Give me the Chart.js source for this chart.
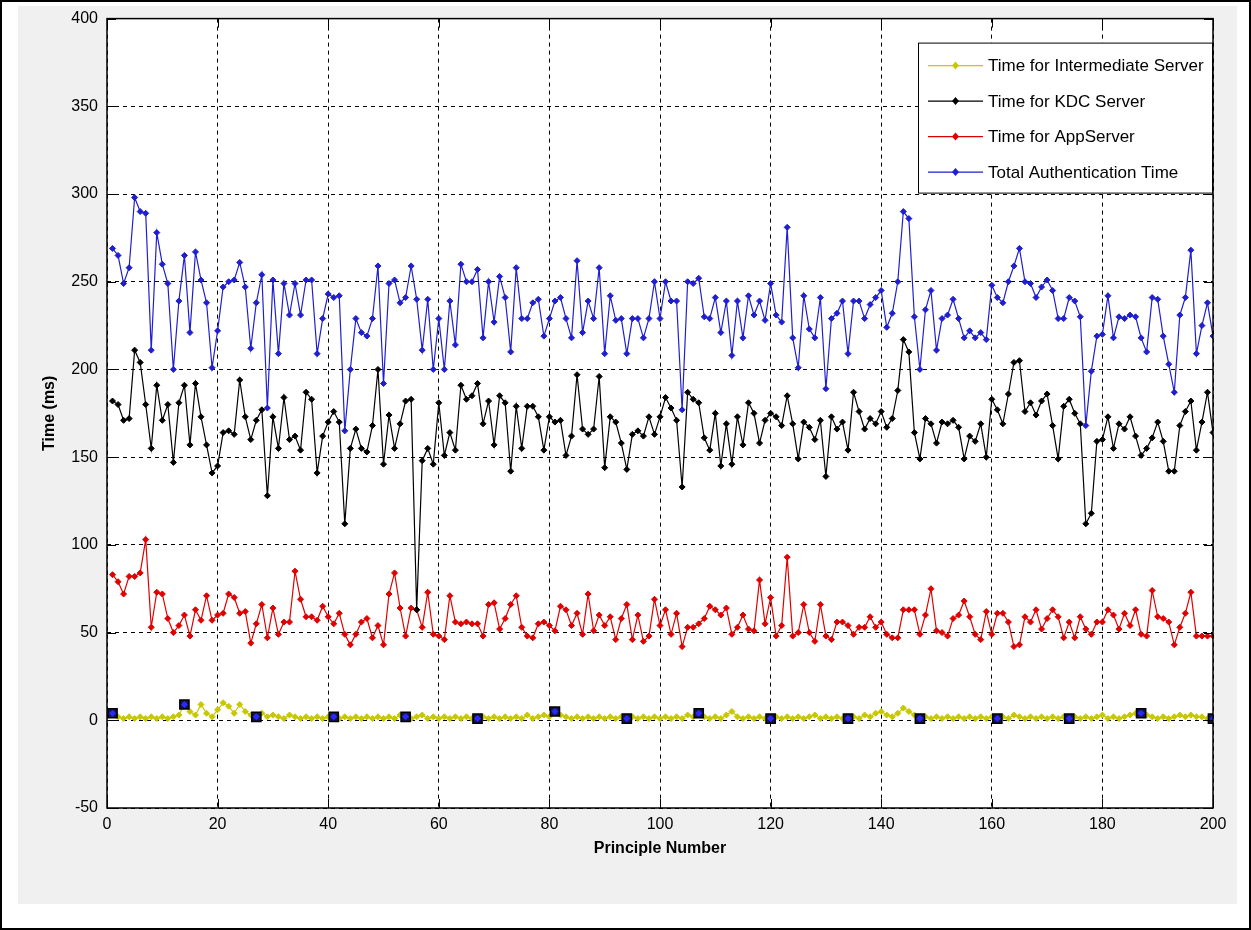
<!DOCTYPE html>
<html>
<head>
<meta charset="utf-8">
<script src="https://cdn.jsdelivr.net/npm/chart.js@4.4.1/dist/chart.umd.min.js"></script>
<style>
	html, body { margin: 0; padding: 0; background: #fff; }
	canvas { display: block; }
</style>
</head>
<body>
<canvas id="chart-block" width="1251" height="930"></canvas>
<script>
// values, principle 1..200
let totalTime = [
	269,265,249,258,298,290,289,211,278,260,249,200,239,265,221,267,251,238,201,222,
	247,250,251,261,247,212,238,254,178,251,209,249,231,249,231,251,251,209,229,243,
	241,242,165,200,229,221,219,229,259,192,249,251,238,241,259,240,211,240,200,229,
	200,239,214,260,250,250,257,218,250,227,253,241,210,258,229,229,238,240,219,229,
	239,241,229,218,262,221,239,229,258,209,242,228,229,209,229,229,218,229,250,229,
	250,239,239,177,250,249,252,230,229,241,221,239,208,239,218,242,231,239,228,249,
	231,227,281,218,201,242,223,218,241,189,229,232,239,209,239,239,229,237,241,245,
	224,232,250,290,286,230,200,234,245,211,229,231,240,229,218,222,218,221,217,248,
	241,238,250,259,269,250,249,241,247,251,245,229,229,241,239,230,168,199,219,220,
	242,218,230,229,231,230,218,210,241,240,219,203,187,231,241,268,209,225,238,219
];
let kdcTime = [
	182,180,171,172,211,204,180,155,191,171,180,147,181,191,157,192,173,157,141,145,
	164,165,163,194,173,160,171,177,128,173,155,184,160,162,154,187,183,141,162,170,
	176,170,112,155,166,155,153,168,200,146,174,155,169,182,183,63,148,155,146,181,
	151,164,154,191,183,185,192,169,182,157,185,181,142,179,155,179,179,173,154,173,
	170,171,151,162,197,166,163,166,196,144,173,170,158,143,163,165,162,173,163,173,
	184,178,171,133,187,183,181,161,154,175,145,169,146,173,157,181,175,158,171,175,
	173,168,185,169,149,170,167,160,171,139,173,166,170,154,187,176,166,172,169,176,
	167,172,188,217,210,164,149,172,169,158,170,169,171,167,149,162,159,169,150,183,
	177,169,186,204,205,176,181,174,182,186,168,149,179,183,175,169,112,118,159,160,
	173,155,169,166,173,162,151,155,161,170,159,142,142,168,176,182,154,170,187,164
];
let appTime = [
	83,79,72,82,82,84,103,53,73,72,58,50,54,60,48,63,57,71,57,60,
	61,72,70,61,62,44,55,66,47,64,49,56,56,85,69,59,59,57,65,59,
	55,61,49,43,49,56,58,47,54,43,72,84,64,48,64,63,53,73,49,48,
	46,71,56,55,56,55,55,48,66,67,52,58,66,71,53,48,47,55,56,54,
	51,65,63,54,61,49,72,51,60,54,59,46,58,66,46,60,45,48,69,54,
	63,49,61,42,53,53,55,58,65,63,60,64,49,53,60,52,51,80,55,70,
	48,54,93,48,50,66,50,45,66,48,46,56,56,54,49,53,53,59,53,56,
	49,47,47,63,63,63,49,60,75,51,50,48,58,60,68,59,49,46,62,49,
	61,61,56,42,43,59,56,63,52,58,63,59,47,56,47,59,52,49,56,56,
	63,60,52,61,54,63,49,48,74,59,58,56,43,53,61,73,48,48,48,48
];
let intermediateTime = [
	4,2,1,2,1,2,1,2,1,2,1,2,3,9,5,3,9,4,2,6,
	10,8,4,9,5,3,2,4,2,3,2,1,3,2,1,2,1,2,1,2,
	2,1,2,1,2,1,2,1,2,1,2,1,3,2,1,2,3,1,2,1,
	2,1,2,1,2,1,1,2,1,2,1,2,1,2,1,3,1,2,3,2,
	5,3,2,1,2,1,2,1,2,1,2,1,2,1,2,1,2,1,2,1,
	2,1,2,1,3,2,4,2,1,2,1,3,5,2,1,2,1,2,1,1,
	2,1,2,1,2,1,2,3,1,2,1,2,1,1,2,1,3,2,4,5,
	3,2,4,7,5,3,1,2,1,2,1,2,1,2,1,2,1,2,1,2,
	1,2,1,3,2,1,2,1,2,1,2,1,2,1,2,1,2,1,2,3,
	1,2,1,2,3,4,4,3,2,1,2,1,2,3,2,3,2,2,1,1
];
// square markers sitting on the intermediate series
let squareIdx = [1,14,27,41,54,67,81,94,107,120,134,147,161,174,187,200];
let squareVal = [4,9,2,2,2,1,5,1,4,1,1,1,1,1,4,1];

let xTicks = [0,20,40,60,80,100,120,140,160,180,200];
let yTicks = [-50,0,50,100,150,200,250,300,350,400];

let seriesNames = ['Time for Intermediate Server','Time for KDC Server','Time for AppServer','Total Authentication Time'];
let seriesColors = ['#c8c800','#000000','#e00000','#1f1fd0'];

let FONT = "'Liberation Sans', Arial, sans-serif";

function toPoints(arr) {
	let pts = [];
	for(let i = 0; i < arr.length; i++) pts.push({x: i + 1, y: arr[i]});
	return pts;
}

function lineSet(label, arr, color) {
	return {
		label: label,
		data: toPoints(arr),
		borderColor: color,
		backgroundColor: color,
		borderWidth: 1.2,
		pointStyle: 'rectRot',
		pointRadius: 3,
		pointBorderWidth: 1,
		tension: 0,
		fill: false
	};
}

let squarePts = squareIdx.map((x, i) => ({x: x, y: squareVal[i]}));

let boxPlugin = {
	id: 'matlabBox',
	beforeDraw(chart) {
		let c = chart.ctx;
		c.save();
		c.fillStyle = '#ffffff';
		c.fillRect(0, 0, chart.width, chart.height);
		c.fillStyle = '#f0f0f0';
		c.fillRect(18, 6, 1219, 898);
		let a = chart.chartArea;
		c.fillStyle = '#ffffff';
		c.fillRect(a.left, a.top, a.right - a.left, a.bottom - a.top);
		// outer frame of the picture
		c.strokeStyle = '#000';
		c.lineWidth = 2;
		c.strokeRect(1, 1, chart.width - 2, chart.height - 2);
		c.restore();
	},
	afterDraw(chart) {
		let c = chart.ctx;
		let a = chart.chartArea;
		let xs = chart.scales.x, ys = chart.scales.y;
		c.save();
		c.strokeStyle = '#000';
		c.lineWidth = 1;
		c.beginPath();
		// inward ticks
		xTicks.forEach(v => {
			let px = Math.round(xs.getPixelForValue(v)) + 0.5;
			c.moveTo(px, a.bottom); c.lineTo(px, a.bottom - 9);
			c.moveTo(px, a.top); c.lineTo(px, a.top + 9);
		});
		yTicks.forEach(v => {
			let py = Math.round(ys.getPixelForValue(v)) + 0.5;
			c.moveTo(a.left, py); c.lineTo(a.left + 9, py);
			c.moveTo(a.right, py); c.lineTo(a.right - 9, py);
		});
		c.stroke();
		c.lineWidth = 1.5;
		c.strokeRect(a.left, a.top, a.right - a.left, a.bottom - a.top);

		// legend
		let lw = 294, lh = 150;
		let lx = a.right - lw - 1, ly = a.top + 24;
		c.fillStyle = '#fff';
		c.fillRect(lx, ly, lw, lh);
		c.lineWidth = 1;
		c.strokeStyle = '#000';
		c.strokeRect(lx + 0.5, ly + 0.5, lw, lh);
		c.font = '17px ' + FONT;
		c.textBaseline = 'middle';
		for(let i = 0; i < seriesNames.length; i++) {
			let ry = ly + 23 + i * 35.5;
			c.strokeStyle = seriesColors[i];
			c.fillStyle = seriesColors[i];
			c.lineWidth = 1.2;
			c.beginPath();
			c.moveTo(lx + 10, ry); c.lineTo(lx + 65, ry);
			c.stroke();
			c.beginPath();
			c.moveTo(lx + 37.5, ry - 4); c.lineTo(lx + 41, ry); c.lineTo(lx + 37.5, ry + 4); c.lineTo(lx + 34, ry);
			c.closePath();
			c.fill();
			c.fillStyle = '#000';
			c.fillText(seriesNames[i], lx + 70, ry + 1);
		}
		c.restore();
	}
};

let ctx = document.getElementById('chart-block').getContext('2d');
let metChart = new Chart(ctx, {
	type: 'line',
	data: {
		datasets: [
			{
				label: 'squares-mark',
				data: squarePts,
				showLine: false,
				pointStyle: 'rectRot',
				pointRadius: 3,
				backgroundColor: '#2a2aff',
				borderColor: '#2a2aff',
				borderWidth: 1
			},
			{
				label: 'squares',
				data: squarePts,
				showLine: false,
				pointStyle: 'rect',
				pointRadius: 6.5,
				backgroundColor: '#141450',
				borderColor: '#000000',
				borderWidth: 1.5
			},
			lineSet(seriesNames[0], intermediateTime, seriesColors[0]),
			lineSet(seriesNames[1], kdcTime, seriesColors[1]),
			lineSet(seriesNames[2], appTime, seriesColors[2]),
			lineSet(seriesNames[3], totalTime, seriesColors[3])
		]
	},
	options: {
		responsive: false,
		animation: false,
		layout: { padding: { left: 40, right: 38, top: 18, bottom: 72 } },
		plugins: {
			legend: { display: false },
			tooltip: { enabled: false }
		},
		scales: {
			x: {
				type: 'linear',
				min: 0,
				max: 200,
				afterBuildTicks: s => { s.ticks = xTicks.map(v => ({value: v})); },
				ticks: { color: '#000', font: { family: FONT, size: 16 }, padding: 7, maxRotation: 0 },
				grid: { color: '#000', lineWidth: 1, drawTicks: false },
				border: { display: false, dash: [4, 4] },
				title: { display: true, text: 'Principle Number', color: '#000', font: { family: FONT, size: 16, weight: 'bold' }, padding: { top: 0, bottom: 0 } },
				afterFit: s => { s.height = 50; }
			},
			y: {
				min: -50,
				max: 400,
				afterBuildTicks: s => { s.ticks = yTicks.map(v => ({value: v})); },
				ticks: { color: '#000', font: { family: FONT, size: 16 }, padding: 9 },
				grid: { color: '#000', lineWidth: 1, drawTicks: false },
				border: { display: false, dash: [4, 4] },
				title: { display: true, text: 'Time (ms)', color: '#000', font: { family: FONT, size: 16, weight: 'bold' }, padding: { top: 0, bottom: 0 } },
				afterFit: s => { s.width = 67; }
			}
		}
	},
	plugins: [boxPlugin]
});
</script>
</body>
</html>
